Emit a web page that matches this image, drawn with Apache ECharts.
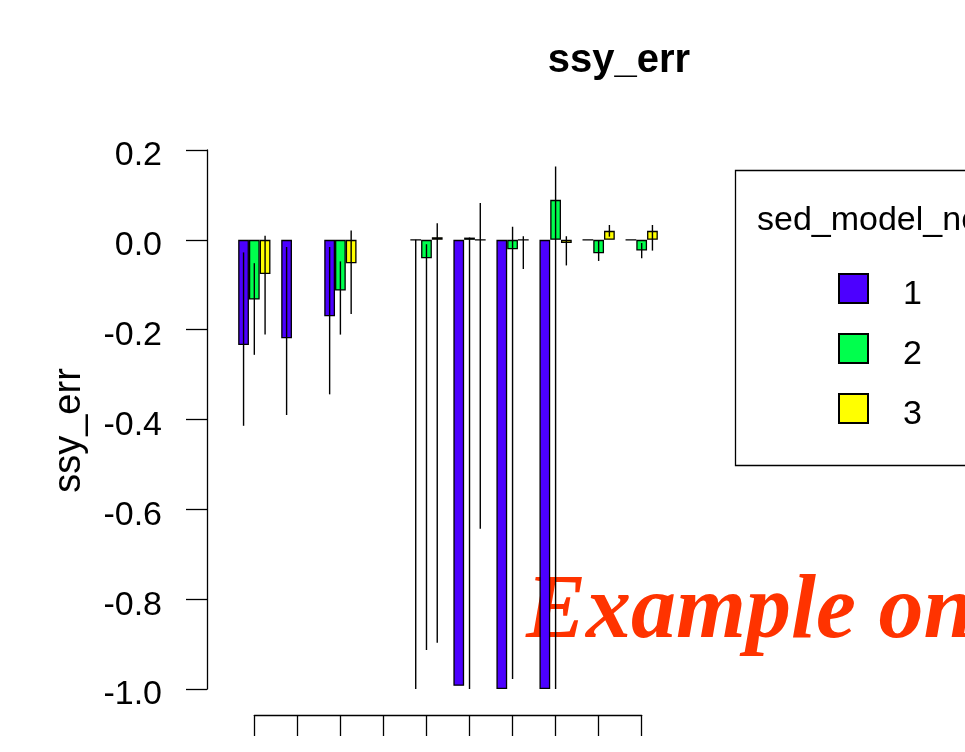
<!DOCTYPE html>
<html>
<head>
<meta charset="utf-8">
<script src="https://cdn.jsdelivr.net/npm/echarts@6/dist/echarts.min.js"></script>
<style>html,body{margin:0;padding:0;background:#fff;}#chart{width:965px;height:752px;}</style>
</head>
<body>
<div id="chart"></div>
<script>
// ---- data ----
const categories = ['1', '2', '3', '4', '5', '6', '7', '8', '9', '10'];
const modelNames = ['1', '2', '3'];
const model1Vals = [-0.234, -0.219, -0.170, null, 0, -0.993, -1.0, -1.0, 0, 0];
const model2Vals = [-0.133, null, -0.113, null, -0.041, 0.005, -0.021, 0.089, -0.030, -0.024];
const model3Vals = [-0.076, null, -0.052, null, 0.006, 0, 0, -0.007, 0.020, 0.020];
const model1Lo = [-0.414, -0.390, -0.344, null, -1.0, null, null, null, null, null];
const model1Hi = [-0.028, -0.016, -0.016, null, 0, null, null, null, null, null];
const model2Lo = [-0.256, null, -0.211, null, -0.913, -1.0, -0.978, -1.0, -0.047, -0.041];
const model2Hi = [-0.052, null, -0.048, null, -0.010, 0.005, 0.029, 0.163, -0.002, -0.007];
const model3Lo = [-0.211, null, -0.165, null, -0.897, -0.643, -0.065, -0.057, 0.007, -0.024];
const model3Hi = [0.009, null, 0.021, null, 0.037, 0.082, 0.008, 0.008, 0.033, 0.033];
const yMin = -1.0, yMax = 0.2, yStep = 0.2;

const colors = ['#4C00FF', '#00FF4D', '#FFFF00'];
const FONT = "'Liberation Sans', Arial, sans-serif";

const chart = echarts.init(document.getElementById('chart'), null, {renderer: 'canvas'});

function errSeries(k, lo, hi) {
  const data = [];
  categories.forEach((c, i) => { if (lo[i] != null && hi[i] != null) data.push([i, lo[i], hi[i]]); });
  return {
    type: 'custom', name: 'err' + k, xAxisIndex: 0, yAxisIndex: 0, z: 5,
    data: data,
    renderItem: function (params, api) {
      const i = api.value(0);
      const p1 = api.coord([i, api.value(1)]);
      const p2 = api.coord([i, api.value(2)]);
      const band = api.size([1, 0])[0];
      const dx = (k - 1) * band * 0.25;
      return {
        type: 'line',
        shape: {x1: p1[0] + dx, y1: p1[1], x2: p1[0] + dx, y2: p2[1]},
        style: {stroke: '#000', lineWidth: 1.4}
      };
    }
  };
}

const vals = [model1Vals, model2Vals, model3Vals];
const barSeries = modelNames.map((n, k) => ({
  type: 'bar', name: n, xAxisIndex: 0, yAxisIndex: 0,
  data: vals[k],
  barGap: '0%', barCategoryGap: '25%',
  itemStyle: {color: colors[k], borderColor: '#000', borderWidth: 1.3},
  z: 2
}));

const option = {
  animation: false,
  backgroundColor: '#fff',
  title: {
    text: 'ssy_err', left: 614, top: 36, textAlign: 'center',
    textStyle: {fontFamily: FONT, fontSize: 40, fontWeight: 'bold', color: '#000'}
  },
  legend: {
    data: modelNames, orient: 'vertical', left: 838, top: 273, padding: 0,
    itemWidth: 29, itemHeight: 29, itemGap: 21.5, icon: 'rect',
    formatter: name => '{t|' + name + '}',
    textStyle: {fontFamily: FONT, fontSize: 34, color: '#000',
      rich: {t: {fontFamily: FONT, fontSize: 34, color: '#000', padding: [12, 0, 0, 30]}}},
    selectedMode: false
  },
  grid: [
    {left: 232.8, width: 430.4, top: 150, bottom: 63},
    {left: 254.3, width: 387.4, top: 150, bottom: 37}
  ],
  xAxis: [
    {type: 'category', gridIndex: 0, data: categories, boundaryGap: true, show: false},
    {type: 'category', gridIndex: 1, data: categories, boundaryGap: false,
     axisLine: {show: true, onZero: false, lineStyle: {color: '#000', width: 1.3}},
     axisTick: {show: true, length: 21, alignWithLabel: true, lineStyle: {color: '#000', width: 1.3}},
     axisLabel: {show: false}, splitLine: {show: false}}
  ],
  yAxis: [
    {type: 'value', gridIndex: 0, min: yMin, max: yMax, interval: yStep, offset: 25.8,
     name: 'ssy_err', nameLocation: 'middle', nameGap: 118, nameRotate: 90,
     nameTextStyle: {fontFamily: FONT, fontSize: 38, color: '#000', padding: [0, 22, 0, 0]},
     axisLine: {show: true, lineStyle: {color: '#000', width: 1.3}},
     axisTick: {show: true, length: 21, lineStyle: {color: '#000', width: 1.3}},
     axisLabel: {fontFamily: FONT, fontSize: 34, color: '#000', margin: 45,
       formatter: v => '{t|' + v.toFixed(1) + '}',
       rich: {t: {fontFamily: FONT, fontSize: 34, color: '#000', padding: [12, 0, 0, 0]}}},
     splitLine: {show: false}},
    {type: 'value', gridIndex: 1, min: yMin, max: yMax, show: false}
  ],
  graphic: [
    {type: 'rect', shape: {x: 735.5, y: 170.5, width: 300, height: 295},
     style: {fill: 'none', stroke: '#000', lineWidth: 1.3}, z: 1},
    {type: 'text', x: 757, y: 221,
     style: {text: 'sed_model_no', font: "34px 'Liberation Sans', Arial, sans-serif", fill: '#000',
       align: 'left', verticalAlign: 'middle'}, z: 1},
    {type: 'text', x: 526, y: 614,
     style: {text: 'Example only', font: "italic bold 90px 'Liberation Serif', 'DejaVu Serif', serif",
       fill: '#ff3300', align: 'left', verticalAlign: 'middle',
       shadowColor: 'rgba(0,0,0,0.45)', shadowBlur: 6, shadowOffsetX: 3, shadowOffsetY: 4}, z: 0}
  ],
  series: barSeries.concat([
    errSeries(0, model1Lo, model1Hi),
    errSeries(1, model2Lo, model2Hi),
    errSeries(2, model3Lo, model3Hi)
  ])
};
chart.setOption(option);
</script>
</body>
</html>
